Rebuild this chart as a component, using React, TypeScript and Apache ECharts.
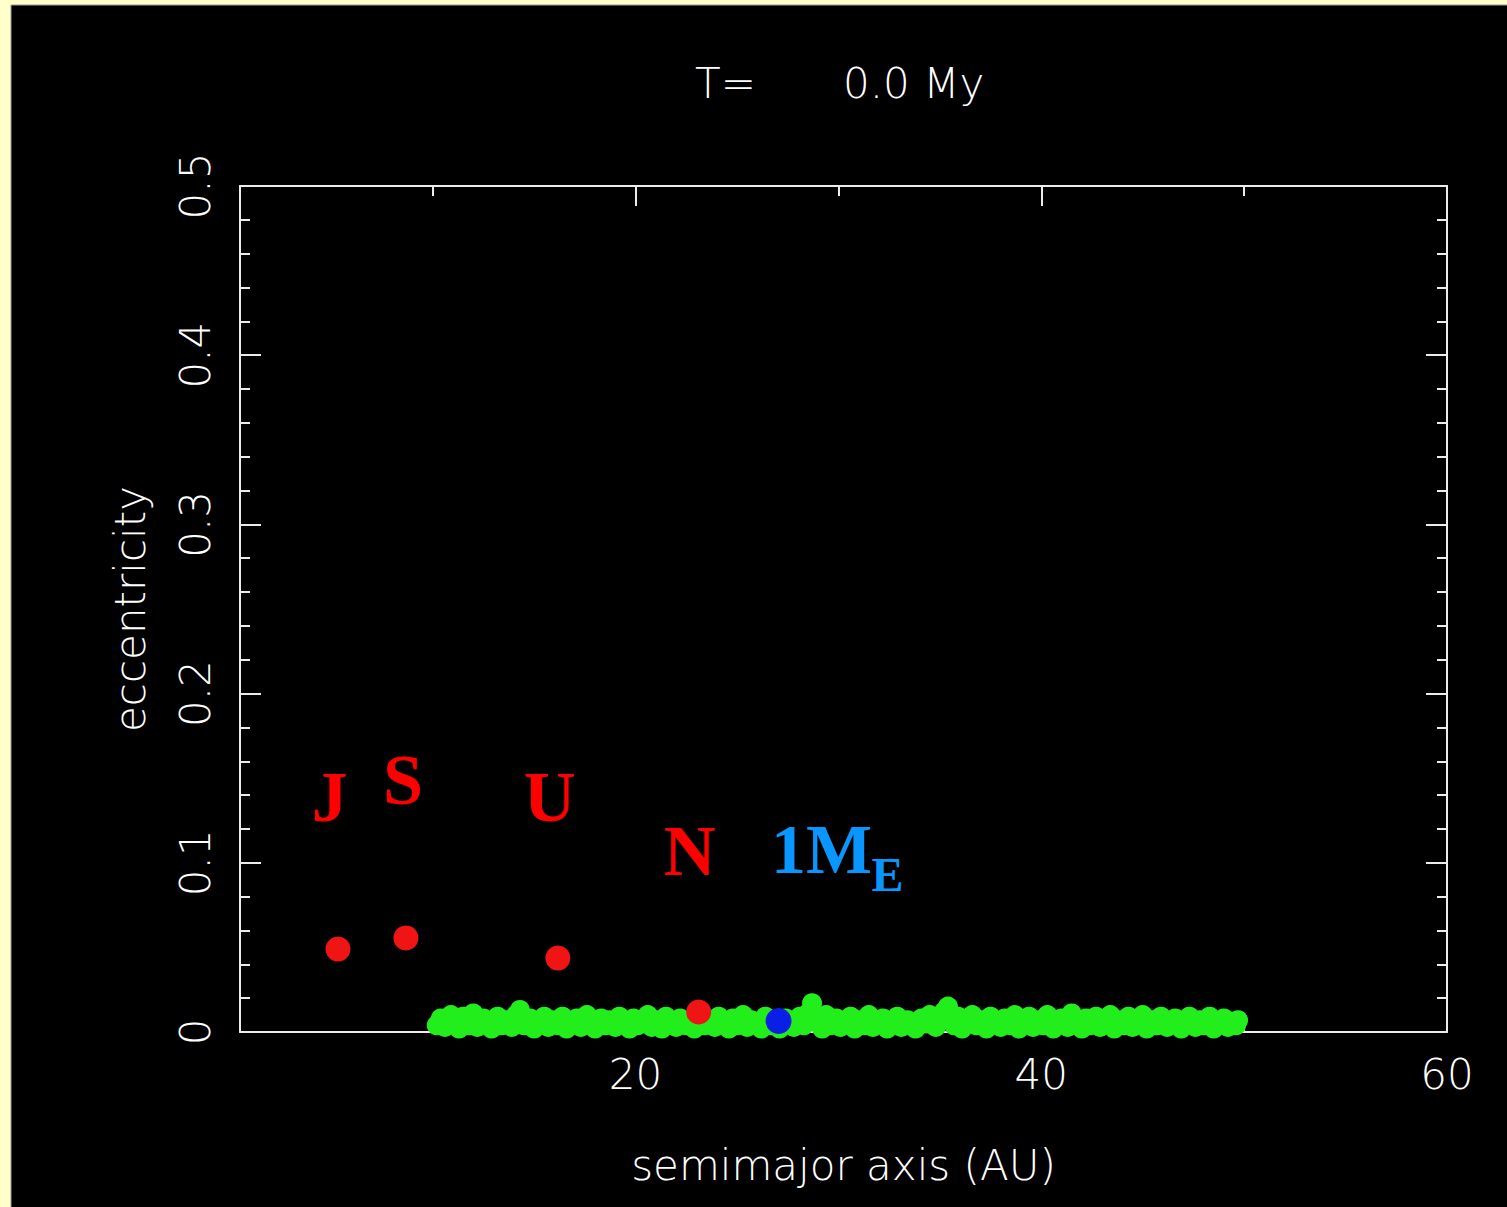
import React, { useEffect, useRef } from 'react';
import * as echarts from 'echarts';

// ---- data ----
const xMajorTicks = [20, 40, 60];
const xMinorTicks = [10, 30, 50];

const planetNames = ['Jupiter', 'Saturn', 'Uranus', 'Neptune'];
const planetA = [5.33, 8.68, 16.17, 23.11];
const planetE = [0.049, 0.0556, 0.0437, 0.0118];

const embryoA = [27.05];
const embryoE = [0.0065];

const labelTexts = ['J', 'S', 'U', 'N', '1M', 'E'];
const labelA = [4.93, 8.53, 15.77, 22.67, 29.17, 32.42];
const labelE = [0.139, 0.149, 0.139, 0.107, 0.108, 0.0928];

// planetesimal disk: [semimajor axis (AU), eccentricity]
const diskPoints: [number, number][] = [
  [10.2, 0.004], [10.4, 0.008], [10.6, 0.003], [10.9, 0.010], [11.1, 0.005], [11.3, 0.002], [11.5, 0.009], [11.8, 0.004],
  [12.0, 0.011], [12.2, 0.003], [12.5, 0.008], [12.7, 0.005], [12.9, 0.002], [13.2, 0.009], [13.4, 0.004], [13.6, 0.007],
  [13.9, 0.003], [14.1, 0.010], [14.3, 0.013], [14.5, 0.004], [14.8, 0.008], [15.0, 0.002], [15.2, 0.006], [15.5, 0.009],
  [15.7, 0.003], [15.9, 0.007], [16.2, 0.004], [16.4, 0.009], [16.6, 0.002], [16.9, 0.006], [17.1, 0.008], [17.3, 0.003],
  [17.6, 0.010], [17.8, 0.005], [18.0, 0.002], [18.3, 0.008], [18.5, 0.004], [18.7, 0.007], [19.0, 0.003], [19.2, 0.009],
  [19.4, 0.005], [19.7, 0.002], [19.9, 0.008], [20.1, 0.004], [20.4, 0.006], [20.6, 0.010], [20.8, 0.003], [21.1, 0.007],
  [21.3, 0.002], [21.5, 0.009], [21.8, 0.005], [22.0, 0.003], [22.2, 0.008], [22.5, 0.004], [22.7, 0.006], [22.9, 0.002],
  [23.2, 0.009], [23.4, 0.004], [23.6, 0.007], [23.9, 0.003], [24.1, 0.009], [24.3, 0.005], [24.6, 0.002], [24.8, 0.008],
  [25.0, 0.004], [25.3, 0.010], [25.5, 0.003], [25.7, 0.007], [26.0, 0.005], [26.2, 0.002], [26.4, 0.009], [26.7, 0.004],
  [26.9, 0.007], [27.1, 0.002], [27.4, 0.008], [27.6, 0.005], [27.8, 0.003], [28.1, 0.009], [28.3, 0.004], [28.5, 0.011],
  [28.7, 0.017], [28.9, 0.006], [29.2, 0.002], [29.4, 0.010], [29.6, 0.004], [29.9, 0.008], [30.1, 0.003], [30.3, 0.006],
  [30.6, 0.009], [30.8, 0.002], [31.0, 0.007], [31.3, 0.004], [31.5, 0.010], [31.7, 0.003], [32.0, 0.006], [32.2, 0.008],
  [32.4, 0.002], [32.7, 0.005], [32.9, 0.009], [33.1, 0.003], [33.4, 0.007], [33.6, 0.004], [33.8, 0.002], [34.1, 0.008],
  [34.3, 0.005], [34.5, 0.010], [34.8, 0.003], [35.0, 0.007], [35.2, 0.012], [35.4, 0.015], [35.7, 0.004], [35.9, 0.009],
  [36.1, 0.002], [36.4, 0.006], [36.6, 0.010], [36.8, 0.004], [37.1, 0.007], [37.3, 0.002], [37.5, 0.009], [37.8, 0.005],
  [38.0, 0.003], [38.2, 0.008], [38.5, 0.004], [38.7, 0.010], [38.9, 0.002], [39.2, 0.006], [39.4, 0.009], [39.6, 0.003],
  [39.9, 0.007], [40.1, 0.004], [40.3, 0.010], [40.6, 0.002], [40.8, 0.006], [41.0, 0.008], [41.3, 0.003], [41.5, 0.011],
  [41.7, 0.005], [42.0, 0.002], [42.2, 0.008], [42.4, 0.004], [42.7, 0.009], [42.9, 0.003], [43.1, 0.006], [43.4, 0.010],
  [43.6, 0.002], [43.8, 0.007], [44.1, 0.004], [44.3, 0.009], [44.5, 0.003], [44.8, 0.006], [45.0, 0.010], [45.2, 0.002],
  [45.5, 0.007], [45.7, 0.004], [45.9, 0.009], [46.2, 0.003], [46.4, 0.006], [46.6, 0.008], [46.9, 0.002], [47.1, 0.005],
  [47.3, 0.009], [47.6, 0.003], [47.8, 0.007], [48.0, 0.004], [48.3, 0.009], [48.5, 0.002], [48.7, 0.006], [49.0, 0.008],
  [49.2, 0.003], [49.4, 0.006], [49.6, 0.004], [49.7, 0.007],
];

const X_MIN = 0.5;
const X_MAX = 60;
const Y_MIN = 0;
const Y_MAX = 0.5;

const AXIS_FONT = '"DejaVu Sans", sans-serif';
const AXIS_WEIGHT = 200;
const AXIS_SIZE = 42;
const AXIS_COLOR = '#ececec';

export default function App() {
  const ref = useRef<HTMLDivElement>(null);

  useEffect(() => {
    if (!ref.current) return;
    const chart = echarts.init(ref.current, undefined, { renderer: 'svg' });

    const textStyle = { color: '#fff', fontFamily: AXIS_FONT, fontWeight: AXIS_WEIGHT, fontSize: AXIS_SIZE };

    const baseX = (position: 'bottom' | 'top', ticks: number[], len: number, showLine: boolean, showLabel: boolean, name?: string) => ({
      type: 'value',
      gridIndex: 0,
      position,
      min: X_MIN,
      max: X_MAX,
      name: name || '',
      nameLocation: 'middle',
      nameGap: 133,
      nameTextStyle: { ...textStyle, verticalAlign: 'middle' },
      axisLine: { show: showLine, onZero: false, lineStyle: { color: AXIS_COLOR, width: 2 } },
      axisTick: { show: true, inside: true, length: len, customValues: ticks, lineStyle: { color: AXIS_COLOR, width: 2 } },
      axisLabel: { show: showLabel, customValues: ticks, margin: 21, ...textStyle },
      splitLine: { show: false },
    });

    const baseY = (position: 'left' | 'right', showLabel: boolean, name?: string) => ({
      type: 'value',
      gridIndex: 0,
      position,
      min: Y_MIN,
      max: Y_MAX,
      interval: 0.1,
      name: name || '',
      nameLocation: 'middle',
      nameGap: 110,
      nameTextStyle: { ...textStyle, verticalAlign: 'middle' },
      axisLine: { show: true, onZero: false, lineStyle: { color: AXIS_COLOR, width: 2 } },
      axisTick: { show: true, inside: true, length: 21, lineStyle: { color: AXIS_COLOR, width: 2 } },
      minorTick: { show: true, splitNumber: 5, length: 10, lineStyle: { color: AXIS_COLOR, width: 2 } },
      axisLabel: {
        show: showLabel,
        rotate: 90,
        margin: 24,
        ...textStyle,
        formatter: (v: number) => (v === 0 ? '0' : v.toFixed(1)),
      },
      splitLine: { show: false },
      minorSplitLine: { show: false },
    });

    const labelData = labelTexts.map((t, i) => ({
      name: t,
      value: [labelA[i], labelE[i]],
      label: {
        color: i < 4 ? '#ff0000' : '#0a96ff',
        fontSize: t === 'E' ? 48 : t === '1M' ? 70 : 72,
      },
    }));

    chart.setOption({
      animation: false,
      backgroundColor: '#ffffcc',
      graphic: [
        {
          type: 'rect',
          z: -10,
          shape: { x: 11, y: 5, width: 1500, height: 1206 },
          style: { fill: '#000', stroke: '#9a9a9a', lineWidth: 1 },
          silent: true,
        },
        {
          type: 'text',
          x: 695,
          y: 83,
          style: { text: 'T=', fill: '#fff', font: `${AXIS_WEIGHT} ${AXIS_SIZE}px ${AXIS_FONT}`, textAlign: 'left', textVerticalAlign: 'middle' },
        },
        {
          type: 'text',
          x: 843,
          y: 83,
          style: { text: '0.0 My', fill: '#fff', font: `${AXIS_WEIGHT} ${AXIS_SIZE}px ${AXIS_FONT}`, textAlign: 'left', textVerticalAlign: 'middle' },
        },
      ],
      grid: { left: 240, top: 186, right: 60, bottom: 175, containLabel: false },
      xAxis: [
        baseX('bottom', xMajorTicks, 20, true, true, 'semimajor axis (AU)'),
        baseX('bottom', xMinorTicks, 10, false, false),
        baseX('top', xMajorTicks, 20, true, false),
        baseX('top', xMinorTicks, 10, false, false),
      ],
      yAxis: [baseY('left', true, 'eccentricity'), baseY('right', false)],
      series: [
        {
          name: 'planetesimals',
          type: 'scatter',
          xAxisIndex: 0,
          yAxisIndex: 0,
          symbol: 'circle',
          symbolSize: 20,
          itemStyle: { color: '#22ee1c', opacity: 1 },
          data: diskPoints,
          z: 2,
        },
        {
          name: 'giant planets',
          type: 'scatter',
          xAxisIndex: 0,
          yAxisIndex: 0,
          symbol: 'circle',
          symbolSize: 25,
          itemStyle: { color: '#f01414', opacity: 1 },
          data: planetA.map((a, i) => ({ name: planetNames[i], value: [a, planetE[i]] })),
          z: 3,
        },
        {
          name: 'embryo',
          type: 'scatter',
          xAxisIndex: 0,
          yAxisIndex: 0,
          symbol: 'circle',
          symbolSize: 26,
          itemStyle: { color: '#0a1ee6', opacity: 1 },
          data: embryoA.map((a, i) => [a, embryoE[i]]),
          z: 4,
        },
        {
          name: 'labels',
          type: 'scatter',
          xAxisIndex: 0,
          yAxisIndex: 0,
          symbolSize: 1,
          itemStyle: { color: '#000', opacity: 1 },
          label: {
            show: true,
            position: 'inside',
            formatter: '{b}',
            fontFamily: '"Liberation Serif", "Times New Roman", serif',
            fontWeight: 'bold',
            align: 'center',
            verticalAlign: 'middle',
          },
          data: labelData,
          z: 5,
        },
      ],
    });

    return () => chart.dispose();
  }, []);

  return (
    <div
      ref={ref}
      style={{ position: 'absolute', left: 0, top: 0, width: 1507, height: 1207 }}
    />
  );
}
